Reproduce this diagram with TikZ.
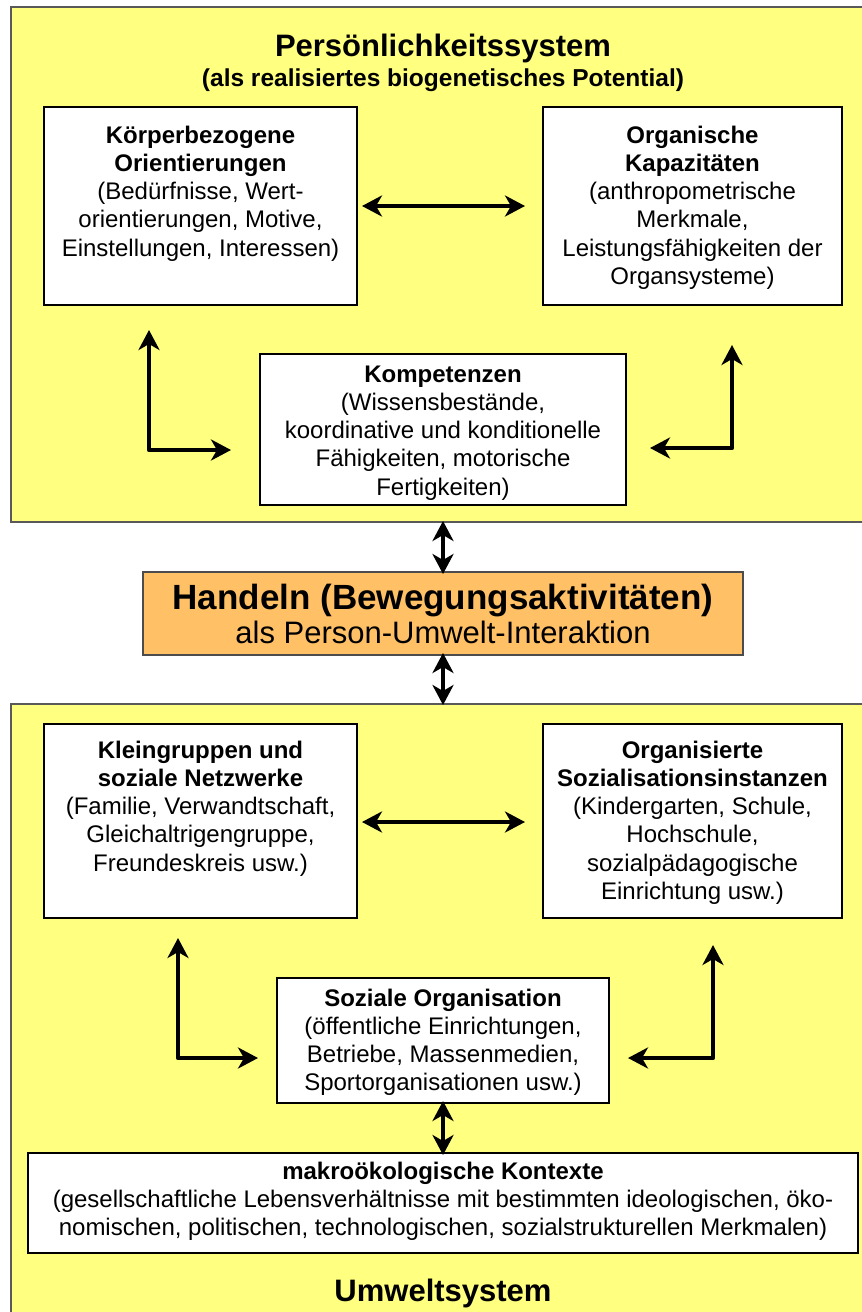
\documentclass[tikz,border=0pt]{standalone}
\usepackage{fontspec}
\setmainfont{Liberation Sans}
\usetikzlibrary{arrows.meta}
\definecolor{sysyellow}{RGB}{255,255,128}
\definecolor{actorange}{RGB}{255,192,102}
\begin{document}
\begin{tikzpicture}[x=1pt,y=-1pt,
  sysbox/.style={draw=black!65, line width=2pt, fill=sysyellow, inner sep=0pt, outer sep=0pt},
  whitebox/.style={draw=black, line width=1.2pt, fill=white, inner sep=0pt, outer sep=0pt},
  actbox/.style={draw=black!70, line width=1.5pt, fill=actorange, inner sep=0pt, outer sep=0pt},
  txt/.style={inner sep=0pt, align=center, font=\fontsize{24}{28.3}\selectfont},
  title/.style={inner sep=0pt, align=center, font=\bfseries\fontsize{31}{36}\selectfont},
  link/.style={line width=4.6pt, line join=round,
    {Stealth[length=20pt,width=21pt,inset=6pt]}-{Stealth[length=20pt,width=21pt,inset=6pt]}}
]
\useasboundingbox (0,0) rectangle (862,1312);
\clip (0,0) rectangle (862,1312);

% the two system frames
\node[sysbox, minimum width=864pt, minimum height=515pt] (persys) at (443,264.5) {};
\node[sysbox, minimum width=864pt, minimum height=626pt] (umsys) at (443,1017) {};

% personality system (multi-line texts are placed by the baseline of their last line)
\node[title, anchor=base] (perst) at (443,56) {Persönlichkeitssystem};
\node[inner sep=0pt, font=\bfseries\fontsize{24.5}{28}\selectfont, anchor=base] (persub) at (443,86)
  {(als realisiertes biogenetisches Potential)};

\node[whitebox, minimum width=313pt, minimum height=198pt] (kb) at (200.5,206) {};
\node[txt, anchor=base] (kbt) at (200.5,256.2)
  {\textbf{Körperbezogene}\\\textbf{Orientierungen}\\(Bedürfnisse, Wert-\\orientierungen, Motive,\\Einstellungen, Interessen)};

\node[whitebox, minimum width=299pt, minimum height=198pt] (ok) at (692.5,206) {};
\node[txt, anchor=base] (okt) at (692.5,284.5)
  {\textbf{Organische}\\\textbf{Kapazitäten}\\(anthropometrische\\Merkmale,\\Leistungsfähigkeiten der\\Organsysteme)};

\node[whitebox, minimum width=366pt, minimum height=151pt] (komp) at (443,429.5) {};
\node[txt, anchor=base] (kompt) at (443,495.2)
  {\textbf{Kompetenzen}\\(Wissensbestände,\\koordinative und konditionelle\\Fähigkeiten, motorische\\Fertigkeiten)};

% action
\node[actbox, minimum width=600pt, minimum height=83pt] (hand) at (443,613.5) {};
\node[inner sep=0pt, font=\bfseries\fontsize{35}{40}\selectfont, anchor=base] (handt) at (443,609)
  {Handeln (Bewegungsaktivitäten)};
\node[inner sep=0pt, font=\fontsize{31}{36}\selectfont, anchor=base] (hands) at (443,643)
  {als Person-Umwelt-Interaktion};

% environment system
\node[whitebox, minimum width=313pt, minimum height=194pt] (kg) at (200.5,821) {};
\node[txt, anchor=base] (kgt) at (200.5,871.2)
  {\textbf{Kleingruppen und}\\\textbf{soziale Netzwerke}\\(Familie, Verwandtschaft,\\Gleichaltrigengruppe,\\Freundeskreis usw.)};

\node[whitebox, minimum width=299pt, minimum height=194pt] (osi) at (692.5,821) {};
\node[txt, anchor=base] (osit) at (692.5,899.5)
  {\textbf{Organisierte}\\\textbf{Sozialisationsinstanzen}\\(Kindergarten, Schule,\\Hochschule,\\sozialpädagogische\\Einrichtung usw.)};

\node[whitebox, minimum width=332pt, minimum height=125pt] (so) at (443,1040.5) {};
\node[txt, anchor=base] (sot) at (443,1090.9)
  {\textbf{Soziale Organisation}\\(öffentliche Einrichtungen,\\Betriebe, Massenmedien,\\Sportorganisationen usw.)};

\node[whitebox, minimum width=830pt, minimum height=100pt] (makro) at (443,1203) {};
\node[txt, anchor=base] (makrot) at (443,1235.6)
  {\textbf{makroökologische Kontexte}\\(gesellschaftliche Lebensverhältnisse mit bestimmten ideologischen, öko-\\nomischen, politischen, technologischen, sozialstrukturellen Merkmalen)};

\node[title, anchor=base] (umt) at (443,1301) {Umweltsystem};

% arrow end points
\coordinate (a1l) at (362,206);  \coordinate (a1r) at (525,206);
\coordinate (a2t) at (149,330);  \coordinate (a2c) at (149,450);  \coordinate (a2e) at (231,450);
\coordinate (a3t) at (732,345);  \coordinate (a3c) at (732,448);  \coordinate (a3e) at (650,448);
\coordinate (b1l) at (362,822);  \coordinate (b1r) at (525,822);
\coordinate (b2t) at (178,938);  \coordinate (b2c) at (178,1058); \coordinate (b2e) at (258,1058);
\coordinate (b3t) at (713,945);  \coordinate (b3c) at (713,1058); \coordinate (b3e) at (628,1058);

% connectors inside the personality system
\draw[link] (a1l) -- (a1r);
\draw[link] (a2t) -- (a2c) -- (a2e);
\draw[link] (a3t) -- (a3c) -- (a3e);

% connectors to and from the action box
\draw[link] ([yshift=-2pt]hand.north) -- ([yshift=1pt]hand.north |- persys.south);
\draw[link] ([yshift=2pt]hand.south) -- ([yshift=-1pt]hand.south |- umsys.north);

% connectors inside the environment system
\draw[link] (b1l) -- (b1r);
\draw[link] (b2t) -- (b2c) -- (b2e);
\draw[link] (b3t) -- (b3c) -- (b3e);
\draw[link] ([yshift=2pt]so.south) -- ([yshift=-2pt]makro.north);
\end{tikzpicture}
\end{document}
